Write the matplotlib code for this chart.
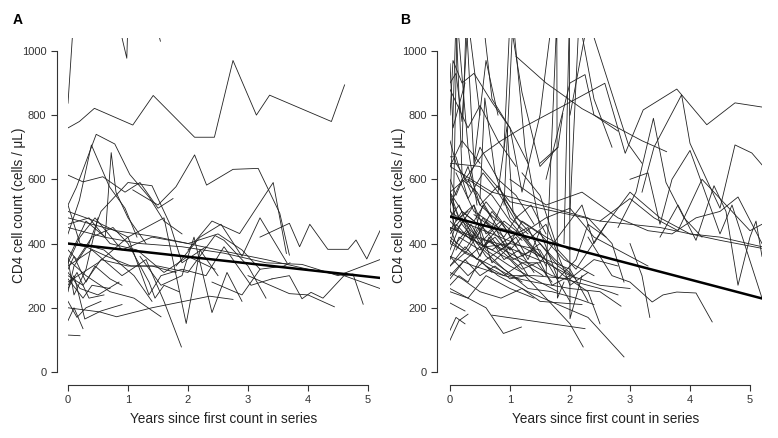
import matplotlib
matplotlib.use("Agg")
import matplotlib.pyplot as plt

plt.rcParams['font.family'] = ['Liberation Sans', 'DejaVu Sans']

# --- panel A: individual series (years, CD4 counts) ---
a_years = [
    [0, 0.19, 0.44, 1.08, 1.42, 2.11, 2.44, 2.75, 3.14, 3.36, 4.39, 4.61],
    [0, 0.1],
    [0.8, 0.98, 1.0],
    [1.52, 1.54],
    [0, 0.14, 0.47, 0.78, 1.03, 1.35, 1.6, 1.9],
    [0, 0.25, 0.58, 0.95, 1.2, 1.5, 1.75],
    [0, 0.19, 0.39, 0.69, 0.95, 1.15],
    [0, 0.3, 0.62, 0.72, 0.8, 1.0, 1.3],
    [1.08, 1.5, 1.8, 2.11, 2.31, 2.75, 3.17, 3.53, 3.69],
    [2.0, 2.4, 2.86, 3.42, 3.64],
    [3.2, 3.69, 3.86, 4.03, 4.33, 4.67, 4.8, 4.98, 5.2],
    [0, 0.53, 0.81, 1.4, 2.36, 2.75],
    [0, 0.4, 0.9, 1.3, 1.6, 1.89],
    [0, 0.5, 1.0, 1.6, 1.97, 2.2, 2.5],
    [3.0, 3.69, 4.0, 4.44],
    [3.4, 3.69, 3.9, 4.05, 4.25, 4.6, 4.75, 4.92],
    [0, 0.8, 1.5, 2.5, 3.3, 4.0, 4.6, 5.2],
    [0, 0.6, 1.2, 1.9, 2.6, 3.3, 3.9, 4.5, 5.2],
    [0, 0.25, 0.55, 1.0, 1.4, 1.8],
    [0, 0.2],
    [0, 0.1, 0.25],
    [0, 0.15, 0.3, 0.55],
    [0, 0.1, 0.28, 0.55, 0.9],
    [0, 0.3, 0.7, 1.1, 1.55],
    [0, 0.2, 0.5, 0.85],
    [0, 0.15, 0.4, 0.75, 1.0, 1.35, 1.45, 1.6, 1.85],
    [0, 0.2, 0.45, 0.9, 1.4, 2.0, 2.5, 2.9, 3.2],
    [0, 0.3, 0.65, 1.05, 1.5, 2.0, 2.45, 2.6, 3.0, 3.3],
    [0, 0.1, 0.35, 0.55, 1.0, 1.4, 1.7, 1.9, 2.3],
    [1.2, 1.55, 1.9, 2.1, 2.4, 2.65, 2.9],
    [0, 0.45, 1.0, 1.35, 1.55, 1.9, 2.3, 2.6, 3.05, 3.4],
    [1.8, 2.2, 2.55, 2.9, 3.2, 3.65],
    [0, 0.35, 0.7, 1.15, 1.6, 2.0, 2.45],
    [0, 0.25, 0.4, 0.7],
    [0, 0.1, 0.3, 0.5],
    [2.4, 2.9, 3.2, 3.6, 3.7],
    [0, 0.2, 0.6, 1.1, 1.4],
    [0, 0.15, 0.35, 0.6],
    [0, 0.1, 0.3, 0.45, 0.7, 0.9],
]
a_counts = [
    [760, 780, 821, 769, 861, 731, 731, 970, 800, 862, 780, 894],
    [837, 1120],
    [1120, 977, 1100],
    [1045, 1030],
    [520, 575, 740, 710, 615, 545, 470, 430],
    [613, 592, 608, 560, 590, 510, 540],
    [430, 535, 707, 577, 510, 420],
    [350, 470, 420, 683, 560, 480, 400],
    [567, 520, 577, 676, 582, 631, 634, 494, 364],
    [380, 470, 431, 590, 369],
    [420, 463, 390, 460, 382, 382, 411, 352, 440],
    [200, 187, 172, 200, 236, 226],
    [330, 380, 300, 350, 220, 78],
    [280, 340, 420, 480, 151, 380, 300],
    [300, 244, 240, 203],
    [290, 300, 228, 248, 230, 300, 305, 211],
    [480, 440, 420, 380, 350, 320, 300, 260],
    [450, 420, 400, 390, 370, 340, 335, 300, 350],
    [300, 270, 350, 330, 330, 310],
    [115, 113],
    [160, 200, 135],
    [220, 170, 200, 220],
    [270, 300, 165, 190, 210],
    [350, 300, 250, 230, 172],
    [310, 260, 240, 280],
    [380, 350, 420, 450, 400, 280, 230, 270, 250],
    [340, 420, 480, 380, 420, 400, 430, 380, 320],
    [400, 390, 360, 330, 330, 310, 425, 410, 330, 230],
    [250, 330, 400, 500, 590, 580, 460, 340, 390],
    [360, 270, 300, 420, 185, 310, 220],
    [500, 470, 420, 240, 300, 320, 300, 390, 270, 290],
    [330, 420, 460, 360, 480, 340],
    [460, 480, 400, 380, 310, 360, 320],
    [290, 230, 270, 260],
    [350, 240, 320, 480],
    [280, 240, 320, 330, 340],
    [520, 400, 380, 300, 220],
    [260, 310, 230, 240],
    [320, 360, 280, 330, 290, 270],
]
a_trend = [400, 293]

# --- panel B: individual series ---
b_years = [
    [0, 0.25, 0.55, 0.85, 1.2, 1.6, 2.0, 2.58, 2.92, 3.22, 3.78, 4.28, 4.75, 5.2],
    [1.1, 1.6, 2.2, 2.8, 3.2, 3.61],
    [3.2, 3.4, 3.86, 4.0, 4.3, 4.5, 4.75, 5.03, 5.2],
    [2.8, 3.1, 3.39, 3.6, 3.9, 4.2],
    [3.0, 3.3, 3.5, 3.7, 4.0, 4.5, 4.7, 5.2],
    [0, 0.5, 1.0, 1.5, 2.0, 2.5, 3.0, 3.5, 4.0, 4.5, 5.2],
    [1.0, 1.6, 2.2, 2.8, 3.3, 3.7, 4.1, 4.5, 4.8, 5.2],
    [3.5, 3.8, 4.1, 4.4, 4.6, 4.8, 5.0, 5.1, 5.2],
    [2.3, 2.7, 3.0, 3.37, 3.55, 3.78, 4.1, 4.37],
    [3.0, 3.2, 3.33],
    [0, 0.4, 0.8, 1.3, 1.8, 2.3, 2.9],
    [0, 0.5, 1.0, 1.5, 2.0, 2.22],
    [0.7, 2.25],
    [0, 0.3, 0.6, 0.89, 1.19],
    [0, 0.15, 0.3],
    [0, 0.25],
    [0, 0.1, 0.25],
    [1.6, 1.78, 1.79, 1.9],
    [1.9, 1.99, 2.0, 2.2],
    [2.0, 2.3, 2.97, 3.2],
    [0, 0.05, 0.2, 0.4, 0.7, 1.0, 1.3],
    [0, 0.1, 0.2, 0.3, 0.5],
    [0.2, 0.27, 0.4, 0.6, 0.8],
    [0.55, 0.7, 1.0, 1.2, 1.5, 1.7],
    [0.9, 1.0, 1.2, 1.5, 1.8],
    [1.6, 1.8, 2.0, 2.25, 2.4, 2.8],
    [1.5, 1.8, 1.88],
    [0, 0.15, 0.35, 0.6, 0.9, 1.2],
    [0, 0.2, 0.45, 0.7, 1.0, 1.3, 1.6],
    [0, 0.3, 0.6, 0.9, 1.1, 1.5, 1.9, 2.4],
    [0, 0.1, 0.3, 0.5, 0.8],
    [0, 0.25, 0.5, 0.7, 1.0, 1.3],
    [0, 0.15, 0.4, 0.55, 0.75, 1.05, 1.4, 1.7, 2.0],
    [0, 0.4, 0.9, 1.4, 2.0, 2.5, 2.85],
    [0, 0.2, 0.5, 0.9, 1.3, 1.7, 2.1, 2.4],
    [0, 0.3, 0.7, 1.1, 1.6, 2.0, 2.3],
    [0, 0.1, 0.35, 0.6, 1.0, 1.4, 1.8],
    [0, 0.2, 0.4, 0.6, 0.85, 1.1, 1.3, 1.5, 1.8, 2.1, 2.3, 2.6],
    [0, 0.25, 0.5, 0.75, 1.0, 1.25],
    [0, 0.15, 0.3, 0.5, 0.7],
    [0, 0.35, 0.7, 1.1, 1.5, 1.9, 2.3, 2.7, 2.9],
    [0.5, 0.9, 1.3, 1.7, 2.1, 2.5, 2.8],
    [0, 0.2, 0.6, 1.0, 1.2, 1.6, 2.0],
    [0, 0.1, 0.3, 0.55, 0.8, 1.0, 1.25, 1.5],
    [0, 0.3, 0.6, 1.0, 1.4],
    [0, 0.2, 0.45, 0.7],
    [0, 0.25, 0.6, 1.0, 1.4, 2.0, 2.4, 2.8],
    [0.1, 0.4, 0.8, 1.2, 1.6, 2.0, 2.4, 2.8, 3.3],
    [0, 0.1, 0.3, 0.5, 0.8, 1.1, 1.4],
    [0, 0.15, 0.5, 0.9, 1.3, 1.6, 2.0, 2.3],
    [0, 0.3, 0.5, 0.8, 1.1],
    [0, 0.05, 0.25],
    [0, 0.4, 0.8, 1.2, 1.6, 2.0, 2.5, 3.0],
    [0.3, 0.7, 1.0, 1.4, 1.9, 2.3, 2.5],
    [1.2, 1.5, 1.8, 2.1, 2.6],
    [0, 0.3, 0.6, 1.0, 1.5, 2.0],
    [0, 0.2, 0.5, 0.85, 1.2, 1.5, 2.2],
    [0.6, 0.9, 1.2, 1.5],
    [1.5, 1.8, 2.2, 2.4, 2.6, 3.0, 3.5, 4.0, 4.5, 5.2],
    [2.5, 3.0, 3.4, 3.8, 4.2, 4.6, 5.0, 5.2],
    [0, 0.1, 0.3],
    [0, 0.2, 0.5],
    [0.5, 0.58, 0.75, 1.0, 1.3],
    [0.8, 0.95, 1.05],
    [0, 0.1, 0.2, 0.35],
    [0.05, 0.12, 0.3, 0.45],
    [0.9, 1.05, 1.25, 1.5],
    [2.0, 2.15, 2.4, 2.7],
    [0, 0.2, 0.35, 0.55, 0.8, 1.0, 1.2, 1.45],
    [0, 0.1, 0.25, 0.5, 0.75, 1.0, 1.3, 1.55],
    [0.1, 0.3, 0.5, 0.65, 0.9, 1.15, 1.4],
    [0, 0.15, 0.4, 0.6, 0.85, 1.1],
    [0.2, 0.45, 0.7, 0.95, 1.2, 1.5, 1.8, 2.1],
    [0, 0.25, 0.45, 0.65, 0.9, 1.2, 1.45, 1.7],
    [0.3, 0.5, 0.8, 1.1, 1.35, 1.6],
    [0, 0.1, 0.35, 0.55, 0.75, 1.0],
    [0.4, 0.7, 0.9, 1.2, 1.5, 1.75, 2.05],
    [0, 0.2, 0.4, 0.6, 0.9, 1.2],
]
b_counts = [
    [560, 600, 680, 720, 760, 800, 840, 899, 681, 816, 881, 770, 838, 825],
    [983, 900, 820, 760, 720, 686],
    [560, 700, 863, 712, 590, 510, 707, 682, 645],
    [450, 560, 790, 590, 480, 420],
    [600, 620, 460, 600, 690, 430, 520, 230],
    [650, 640, 530, 510, 490, 470, 460, 450, 430, 410, 385],
    [600, 520, 560, 480, 440, 430, 480, 500, 545, 400],
    [420, 520, 410, 580, 500, 270, 420, 470, 360],
    [420, 300, 280, 218, 240, 249, 246, 156],
    [400, 300, 170],
    [400, 360, 300, 250, 210, 170, 47],
    [450, 400, 350, 250, 150, 78],
    [177, 135],
    [260, 230, 200, 120, 140],
    [99, 160, 180],
    [215, 190],
    [130, 170, 150],
    [300, 1100, 230, 280],
    [400, 1100, 166, 300],
    [800, 1100, 710, 650],
    [800, 970, 900, 930, 840, 760, 650],
    [900, 930, 780, 1100, 800],
    [700, 1100, 650, 970, 800],
    [1100, 850, 760, 560, 800, 1100],
    [700, 1100, 870, 640, 700],
    [600, 750, 900, 926, 800, 750],
    [650, 700, 805],
    [480, 520, 430, 360, 320, 280],
    [540, 460, 400, 380, 420, 450, 330],
    [330, 380, 470, 420, 480, 430, 350, 300],
    [600, 550, 640, 520, 470],
    [420, 380, 450, 340, 390, 300],
    [380, 450, 520, 390, 420, 350, 380, 270, 300],
    [360, 330, 300, 280, 260, 250, 205],
    [300, 340, 390, 320, 260, 250, 230, 210],
    [500, 460, 430, 400, 350, 320, 220],
    [450, 400, 460, 380, 330, 290, 250],
    [560, 500, 470, 440, 380, 420, 350, 440, 290, 350, 460, 420],
    [290, 350, 300, 330, 290, 300],
    [270, 300, 280, 350, 310],
    [640, 600, 560, 540, 520, 500, 480, 400, 280],
    [420, 380, 340, 300, 280, 260, 240],
    [470, 430, 390, 400, 470, 420, 380],
    [670, 670, 540, 620, 560, 500, 420, 360],
    [250, 230, 300, 260, 230],
    [520, 600, 560, 480],
    [410, 370, 340, 300, 300, 290, 350, 330],
    [620, 500, 450, 430, 480, 510, 420, 380, 330],
    [720, 650, 590, 700, 600, 550, 460],
    [350, 420, 380, 470, 410, 460, 270, 310],
    [880, 760, 830, 720, 640],
    [960, 760, 900],
    [450, 420, 400, 370, 340, 300, 270, 260],
    [600, 550, 470, 380, 300, 250, 150],
    [620, 550, 380, 320, 460],
    [360, 300, 350, 400, 380, 220],
    [310, 290, 250, 230, 260, 220, 210],
    [330, 300, 340, 340],
    [340, 420, 520, 400, 460, 560, 480, 430, 420, 390],
    [470, 540, 480, 440, 600, 520, 440, 460],
    [560, 470, 500],
    [640, 720, 650],
    [540, 853, 620, 480, 430],
    [560, 764, 500],
    [500, 1100, 620, 560],
    [450, 1100, 700, 520],
    [520, 1100, 700, 450],
    [500, 1100, 850, 700],
    [430, 480, 410, 520, 450, 380, 420, 360],
    [510, 440, 480, 400, 450, 360, 330, 300],
    [380, 440, 360, 420, 350, 380, 310],
    [560, 480, 520, 430, 470, 390],
    [470, 420, 500, 440, 360, 400, 330, 290],
    [330, 390, 350, 410, 370, 320, 340, 280],
    [600, 520, 580, 480, 520, 430],
    [400, 460, 410, 480, 430, 380],
    [490, 450, 540, 460, 400, 350, 300],
    [440, 500, 470, 530, 460, 410],
]
b_trend = [484, 229]

trend_years = [0, 5.2]

fig = plt.figure(figsize=(7.78, 4.38), dpi=100)
ax_a = fig.add_axes([68 / 778, 66 / 438, 312 / 778, 334 / 438])
ax_b = fig.add_axes([450 / 778, 66 / 438, 312 / 778, 334 / 438])

def draw_panel(ax, years, counts, trend, yoff):
    for t, v in zip(years, counts):
        ax.plot(t, v, color='#222222', lw=0.6)
    ax.plot(trend_years, trend, color='black', lw=1.8)
    ax.set_xlim(0, 5.2)
    ax.set_ylim(0, 1040)
    for s in ['top', 'right']:
        ax.spines[s].set_visible(False)
    ax.spines['left'].set_position(('outward', yoff))
    ax.spines['bottom'].set_position(('outward', 9.4))
    ax.spines['left'].set_bounds(0, 1000)
    ax.spines['bottom'].set_bounds(0, 5)
    for s in ['left', 'bottom']:
        ax.spines[s].set_color('#333333')
        ax.spines[s].set_linewidth(0.8)
    ax.set_xticks([0, 1, 2, 3, 4, 5])
    ax.set_yticks([0, 200, 400, 600, 800, 1000])
    ax.tick_params(length=4, width=0.8, color='#333333', labelsize=8,
                   labelcolor='#333333')
    ax.set_xlabel('Years since first count in series', fontsize=9.8,
                  color='#222222', labelpad=5)
    ax.set_ylabel('CD4 cell count (cells / μL)', fontsize=9.8,
                  color='#222222', labelpad=-3)

draw_panel(ax_a, a_years, a_counts, a_trend, 8.1)
draw_panel(ax_b, b_years, b_counts, b_trend, 9.1)

fig.text(13 / 778, 1 - 20 / 438, 'A', fontsize=10, fontweight='bold',
         va='center', ha='left')
fig.text(400 / 778, 1 - 20 / 438, 'B', fontsize=10, fontweight='bold',
         va='center', ha='left')

fig.savefig('out.png', dpi=100)
